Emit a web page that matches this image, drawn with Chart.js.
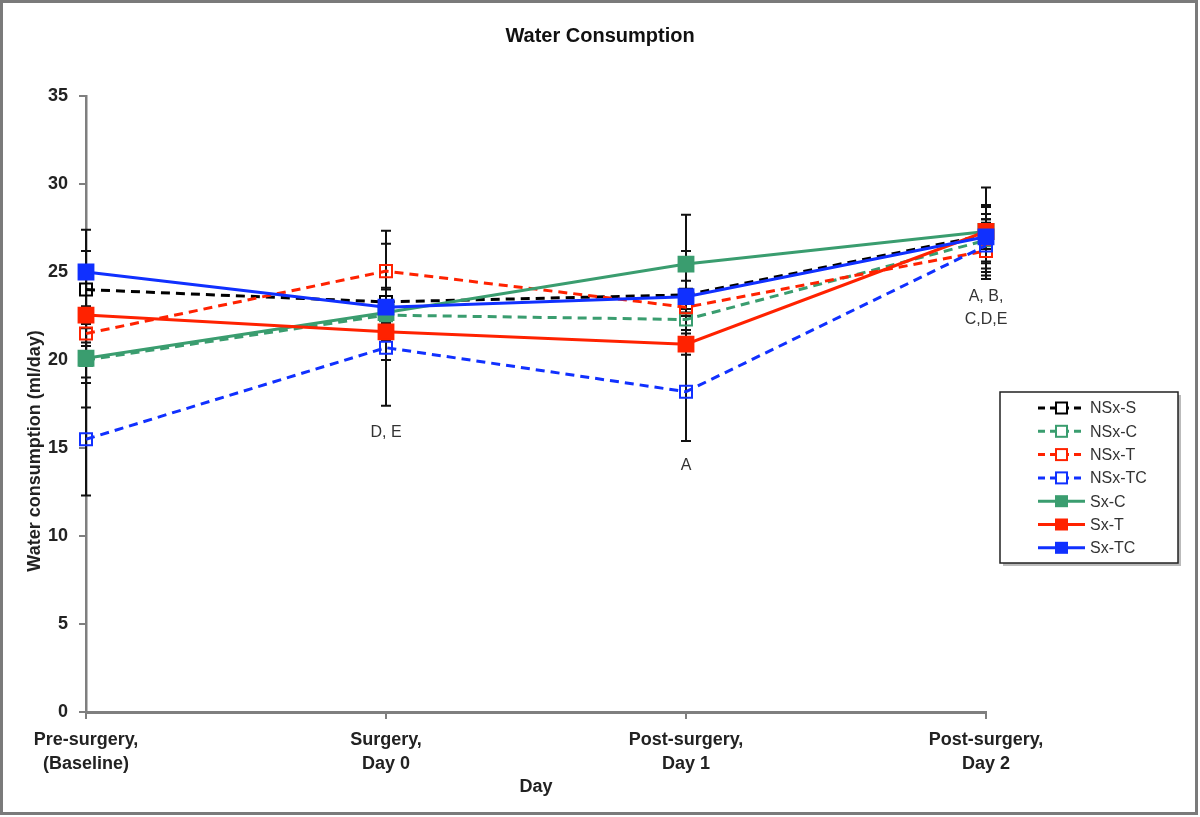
<!DOCTYPE html>
<html lang="en">
<head>
<meta charset="UTF-8">
<title>Water Consumption</title>
<script src="https://cdn.jsdelivr.net/npm/chart.js"></script>
<style>
  body { margin: 0; background: #fff; }
</style>
</head>
<body>
<canvas id="grafico" width="1200" height="817"></canvas>
<script>
// dados (ml/dia)
var dias = [['Pre-surgery,', '(Baseline)'], ['Surgery,', 'Day 0'], ['Post-surgery,', 'Day 1'], ['Post-surgery,', 'Day 2']];
var grupos = ['NSx-S', 'NSx-C', 'NSx-T', 'NSx-TC', 'Sx-C', 'Sx-T', 'Sx-TC'];

var nsxS  = [24.0, 23.3, 23.7, 27.1];
var nsxC  = [20.0, 22.55, 22.3, 26.8];
var nsxT  = [21.5, 25.05, 23.0, 26.2];
var nsxTC = [15.5, 20.7, 18.2, 26.5];
var sxC   = [20.1, 22.7, 25.45, 27.3];
var sxT   = [22.55, 21.6, 20.9, 27.3];
var sxTC  = [25.0, 23.0, 23.6, 27.0];

// erro padrao (barras)
var erroNsxS  = [2.2, 3.3, 2.5, 1.6];
var erroNsxC  = [1.0, 0.6, 0.6, 1.2];
var erroNsxT  = [0.7, 2.3, 0.5, 1.6];
var erroNsxTC = [3.2, 3.3, 2.8, 1.5];
var erroSxC   = [2.8, 0.6, 2.8, 2.5];
var erroSxT   = [0.5, 0.5, 0.6, 1.0];
var erroSxTC  = [2.4, 1.1, 0.9, 1.8];

// letras de significancia
var letras = ['D, E', 'A', 'A, B,', 'C,D,E'];
var letrasDia = [1, 2, 3, 3];
var letrasNivel = [15.9, 14.0, 23.6, 22.3];

var cores = ['#000000', '#3a9d6f', '#ff2200', '#1030ff', '#3a9d6f', '#ff2200', '#1030ff'];
var valores = [nsxS, nsxC, nsxT, nsxTC, sxC, sxT, sxTC];
var erros = [erroNsxS, erroNsxC, erroNsxT, erroNsxTC, erroSxC, erroSxT, erroSxTC];

Chart.defaults.font.family = "'Liberation Sans', Arial, sans-serif";

var datasets = [];
for (var i = 0; i < grupos.length; i++) {
  var tracejado = grupos[i].indexOf('NSx') === 0;
  datasets.push({
    label: grupos[i],
    data: valores[i],
    borderColor: cores[i],
    backgroundColor: cores[i],
    borderWidth: 3,
    borderDash: tracejado ? [9, 6] : [],
    pointStyle: 'rect',
    pointRadius: tracejado ? 8.5 : 10.5,
    pointBorderWidth: 2,
    pointBackgroundColor: tracejado ? 'rgba(255,255,255,0)' : cores[i],
    pointBorderColor: cores[i],
    tension: 0,
    order: grupos.length - i
  });
}

var barrasErro = {
  id: 'barrasErro',
  beforeDatasetsDraw: function (chart) {
    var ctx = chart.ctx, x = chart.scales.x, y = chart.scales.y;
    ctx.save();
    ctx.strokeStyle = '#111';
    ctx.lineWidth = 2;
    for (var d = 0; d < valores.length; d++) {
      for (var j = 0; j < valores[d].length; j++) {
        var px = x.getPixelForValue(j);
        var topo = y.getPixelForValue(valores[d][j] + erros[d][j]);
        var base = y.getPixelForValue(valores[d][j] - erros[d][j]);
        ctx.beginPath();
        ctx.moveTo(px, topo); ctx.lineTo(px, base);
        ctx.moveTo(px - 5, topo); ctx.lineTo(px + 5, topo);
        ctx.moveTo(px - 5, base); ctx.lineTo(px + 5, base);
        ctx.stroke();
      }
    }
    ctx.restore();
  }
};

var extras = {
  id: 'extras',
  afterDraw: function (chart) {
    var ctx = chart.ctx, x = chart.scales.x, y = chart.scales.y;
    ctx.save();
    // titulo
    ctx.fillStyle = '#111';
    ctx.font = "bold 20px 'Liberation Sans', Arial";
    ctx.textAlign = 'center';
    ctx.textBaseline = 'middle';
    ctx.fillText('Water Consumption', 600, 36);

    // titulo do eixo y (mais baixo que o centro, como no original)
    ctx.save();
    ctx.translate(35, 451);
    ctx.rotate(-Math.PI / 2);
    ctx.fillStyle = '#222';
    ctx.font = "bold 18px 'Liberation Sans', Arial";
    ctx.fillText('Water consumption (ml/day)', 0, 0);
    ctx.restore();

    // letras
    ctx.font = "16px 'Liberation Sans', Arial";
    ctx.fillStyle = '#333';
    for (var k = 0; k < letras.length; k++) {
      ctx.fillText(letras[k], x.getPixelForValue(letrasDia[k]), y.getPixelForValue(letrasNivel[k]));
    }

    // legenda
    var lx = 1000, ly = 392, lw = 178, lh = 171;
    ctx.fillStyle = '#bbb';
    ctx.fillRect(lx + 3, ly + 3, lw, lh);
    ctx.fillStyle = '#fff';
    ctx.fillRect(lx, ly, lw, lh);
    ctx.strokeStyle = '#222';
    ctx.lineWidth = 1.5;
    ctx.strokeRect(lx, ly, lw, lh);
    ctx.textAlign = 'left';
    ctx.font = "16px 'Liberation Sans', Arial";
    for (var g = 0; g < grupos.length; g++) {
      var yy = 408 + g * 23.3;
      var tr = grupos[g].indexOf('NSx') === 0;
      ctx.strokeStyle = cores[g];
      ctx.lineWidth = 3;
      ctx.setLineDash(tr ? [7, 5] : []);
      ctx.beginPath(); ctx.moveTo(1038, yy); ctx.lineTo(1085, yy); ctx.stroke();
      ctx.setLineDash([]);
      ctx.lineWidth = 2;
      if (tr) {
        ctx.fillStyle = '#fff';
        ctx.fillRect(1056, yy - 5.5, 11, 11);
        ctx.strokeRect(1056, yy - 5.5, 11, 11);
      } else {
        ctx.fillStyle = cores[g];
        ctx.fillRect(1055, yy - 6, 13, 12);
      }
      ctx.fillStyle = '#333';
      ctx.fillText(grupos[g], 1090, yy + 1);
    }

    // moldura
    ctx.strokeStyle = '#7a7a7a';
    ctx.lineWidth = 3;
    ctx.strokeRect(1.5, 1.5, 1195, 812);
    ctx.restore();
  }
};

new Chart(document.getElementById('grafico'), {
  type: 'line',
  data: { labels: dias, datasets: datasets },
  options: {
    responsive: false,
    animation: false,
    layout: { padding: { top: 96, right: 214, bottom: 0, left: 0 } },
    plugins: { legend: { display: false }, tooltip: { enabled: false } },
    scales: {
      x: {
        type: 'category',
        offset: false,
        afterFit: function (s) { s.height = 105; },
        border: { color: '#7f7f7f', width: 3 },
        grid: { drawOnChartArea: false, tickLength: 7, color: '#7f7f7f', lineWidth: 2 },
        ticks: { color: '#222', padding: 9, maxRotation: 0, autoSkip: false, font: { size: 18, weight: 'bold', lineHeight: 1.33 } },
        title: { display: true, text: 'Day', color: '#222', font: { size: 18, weight: 'bold' }, padding: { top: 0, bottom: 19 } }
      },
      y: {
        min: 0,
        max: 35,
        afterFit: function (s) { s.width = 86; },
        border: { color: '#7f7f7f', width: 2.5 },
        grid: { drawOnChartArea: false, tickLength: 7, color: '#7f7f7f', lineWidth: 2 },
        ticks: { stepSize: 5, color: '#222', padding: 11, font: { size: 18, weight: 'bold' } }
      }
    }
  },
  plugins: [barrasErro, extras]
});
</script>
</body>
</html>
